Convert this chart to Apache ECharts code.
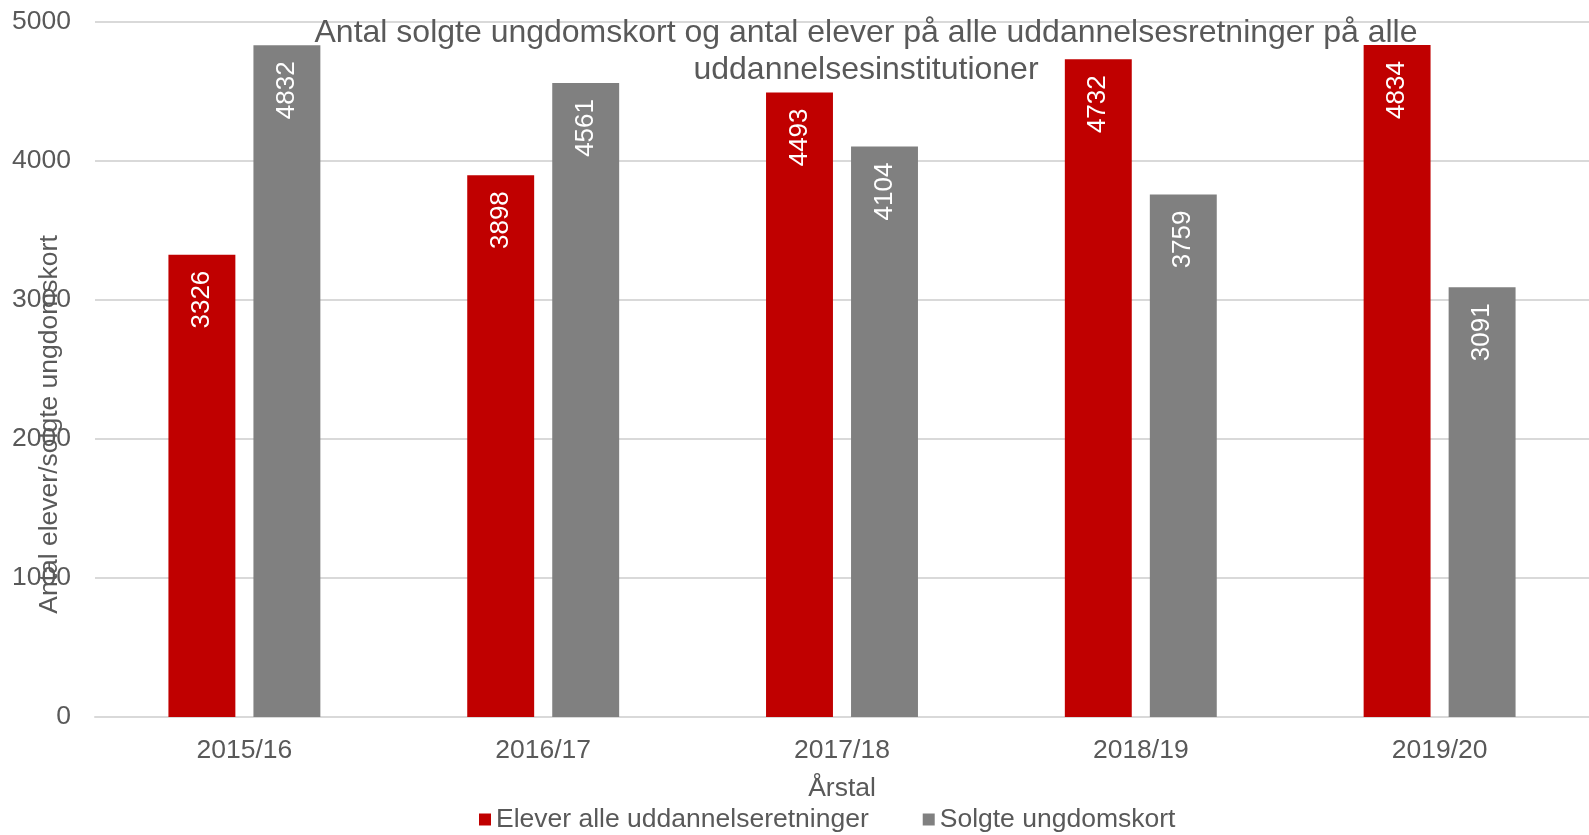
<!DOCTYPE html>
<html>
<head>
<meta charset="utf-8">
<script src="https://cdn.jsdelivr.net/npm/echarts@6/dist/echarts.min.js"></script>
<style>
  html, body { margin: 0; padding: 0; background: #fff; }
  #chart { width: 1589px; height: 835px; }
</style>
</head>
<body>
<div id="chart"></div>
<script>
// data
const years = ["2015/16", "2016/17", "2017/18", "2018/19", "2019/20"];
const elever = [3326, 3898, 4493, 4732, 4834];
const solgte = [4832, 4561, 4104, 3759, 3091];
const yTicks = { min: 0, max: 5000, interval: 1000 };

const textColor = "#595959";
const font = "'Liberation Sans', Arial, sans-serif";

const barLabel = {
  show: true,
  position: "insideTop",
  distance: 16,
  rotate: 90,
  align: "right",
  verticalAlign: "middle",
  color: "#fff",
  fontSize: 26,
  fontFamily: font,
};

const chart = echarts.init(document.getElementById("chart"));

chart.setOption({
  animation: false,
  textStyle: { fontFamily: font },
  title: {
    text: "Antal solgte ungdomskort og antal elever på alle uddannelsesretninger på alle\nuddannelsesinstitutioner",
    left: 866,
    top: 15,
    textAlign: "center",
    padding: 0,
    z: 10,
    textStyle: {
      fontSize: 32,
      fontWeight: "normal",
      color: textColor,
      lineHeight: 37,
      fontFamily: font,
    },
  },
  grid: { left: 95, right: 0, top: 22, bottom: 118, containLabel: false, outerBoundsMode: "none" },
  legend: {
    data: ["Elever alle uddannelseretninger", "Solgte ungdomskort"],
    left: 479,
    top: 806,
    icon: "rect",
    itemWidth: 12,
    itemHeight: 12,
    itemGap: 54,
    padding: 0,
    textStyle: { fontSize: 26.5, color: textColor, fontFamily: font },
  },
  xAxis: {
    type: "category",
    data: years,
    name: "Årstal",
    nameLocation: "middle",
    nameGap: 58,
    nameMoveOverlap: false,
    nameTextStyle: { fontSize: 26.5, color: textColor },
    axisLine: { lineStyle: { color: "#D9D9D9", width: 2 } },
    axisTick: { show: false },
    axisLabel: { fontSize: 26.5, color: textColor, margin: 20 },
  },
  yAxis: {
    type: "value",
    min: yTicks.min,
    max: yTicks.max,
    interval: yTicks.interval,
    name: "Antal elever/solgte ungdomskort",
    nameLocation: "middle",
    nameGap: 32,
    nameMoveOverlap: false,
    // shifted down a bit like in the original
    nameTextStyle: { fontSize: 26.5, color: textColor, padding: [0, 110, 0, 0] },
    axisLine: { show: false },
    axisTick: { show: false },
    axisLabel: { fontSize: 26.5, color: textColor, margin: 24, formatter: (v) => String(v) },
    splitLine: { lineStyle: { color: "#D9D9D9", width: 2 } },
  },
  series: [
    {
      name: "Elever alle uddannelseretninger",
      type: "bar",
      data: elever,
      barWidth: "22.4%",
      barGap: "27%",
      itemStyle: { color: "#C00000" },
      label: barLabel,
    },
    {
      name: "Solgte ungdomskort",
      type: "bar",
      data: solgte,
      barWidth: "22.4%",
      itemStyle: { color: "#808080" },
      label: barLabel,
    },
  ],
});
</script>
</body>
</html>
